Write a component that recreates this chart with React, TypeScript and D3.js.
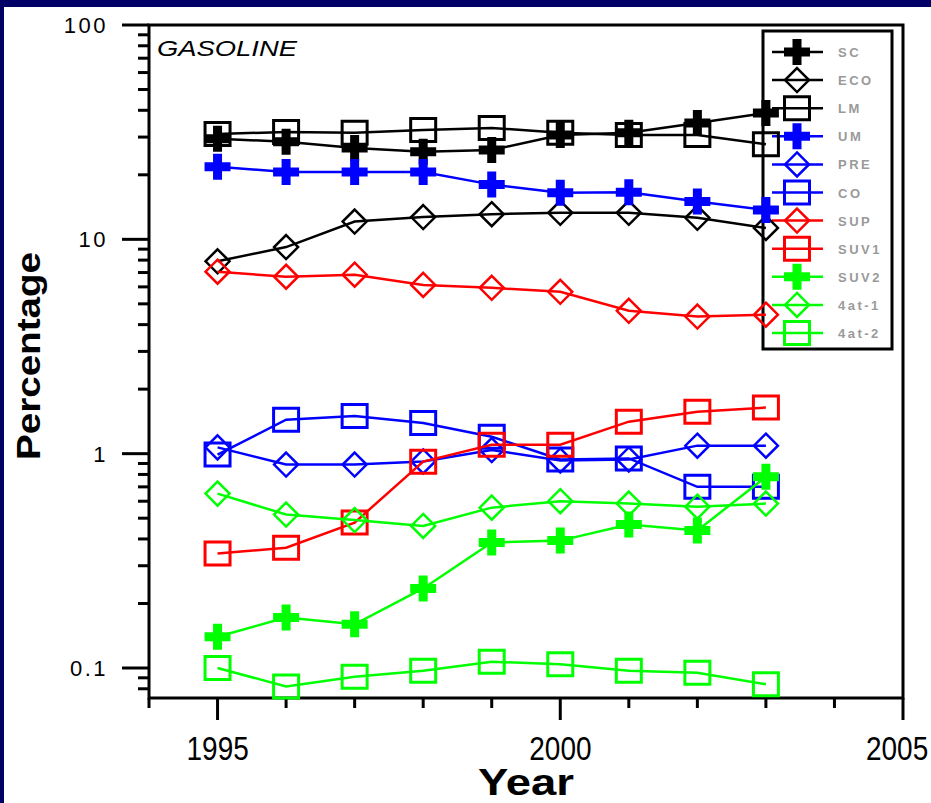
import * as d3 from 'd3';
import { useEffect, useRef } from 'react';

const years = [1995, 1996, 1997, 1998, 1999, 2000, 2001, 2002, 2003];

const sc = [29.5, 28.5, 26.7, 25.6, 26.1, 30.7, 31.4, 34.9, 38.9];
const eco = [7.9, 9.2, 12.1, 12.7, 13.1, 13.3, 13.3, 12.6, 11.3];
const lm = [31, 31.7, 31.4, 32.4, 33.1, 31.4, 30.7, 30.7, 27.8];
const um = [21.8, 20.6, 20.6, 20.6, 18.0, 16.5, 16.6, 15.0, 13.7];
const pre = [1.07, 0.89, 0.89, 0.92, 1.04, 0.93, 0.94, 1.09, 1.09];
const co = [0.99, 1.44, 1.5, 1.39, 1.2, 0.94, 0.95, 0.7, 0.7];
const sup = [7.06, 6.69, 6.84, 6.13, 5.94, 5.69, 4.64, 4.36, 4.45];
const suv1 = [0.342, 0.364, 0.477, 0.918, 1.1, 1.1, 1.41, 1.57, 1.64];
const suv2 = [0.14, 0.172, 0.16, 0.235, 0.385, 0.393, 0.467, 0.438, 0.78];
const at1 = [0.651, 0.52, 0.49, 0.46, 0.56, 0.6, 0.585, 0.566, 0.585];
const at2 = [0.1, 0.082, 0.091, 0.097, 0.107, 0.104, 0.097, 0.095, 0.084];

type Shape = 'plus' | 'diamond' | 'square';

const series: { name: string; values: number[]; color: string; shape: Shape }[] = [
  { name: 'SC', values: sc, color: '#000000', shape: 'plus' },
  { name: 'ECO', values: eco, color: '#000000', shape: 'diamond' },
  { name: 'LM', values: lm, color: '#000000', shape: 'square' },
  { name: 'UM', values: um, color: '#0000ff', shape: 'plus' },
  { name: 'PRE', values: pre, color: '#0000ff', shape: 'diamond' },
  { name: 'CO', values: co, color: '#0000ff', shape: 'square' },
  { name: 'SUP', values: sup, color: '#ff0000', shape: 'diamond' },
  { name: 'SUV1', values: suv1, color: '#ff0000', shape: 'square' },
  { name: 'SUV2', values: suv2, color: '#00ff00', shape: 'plus' },
  { name: '4at-1', values: at1, color: '#00ff00', shape: 'diamond' },
  { name: '4at-2', values: at2, color: '#00ff00', shape: 'square' },
];

const xTicksMajor = [1995, 2000, 2005];
const yTicksMajor = [0.1, 1, 10, 100];
const yTickLabels = ['0.1', '1', '10', '100'];

const W = 931;
const H = 803;
const left = 149;
const right = 903;
const top = 25;
const bottom = 698;

function markerPath(shape: Shape) {
  if (shape === 'plus') {
    const s = 13, t = 4.5;
    return `M${-s},${-t}H${-t}V${-s}H${t}V${-t}H${s}V${t}H${t}V${s}H${-t}V${t}H${-s}Z`;
  }
  if (shape === 'diamond') {
    const s = 12;
    return `M0,${-s}L${s},0L0,${s}L${-s},0Z`;
  }
  return 'M-12.5,-11.5H12.5V11.5H-12.5Z';
}

function drawMarker(g: any, shape: Shape, color: string, x: number, y: number) {
  g.append('path')
    .attr('d', markerPath(shape))
    .attr('transform', `translate(${x},${y})`)
    .attr('fill', shape === 'plus' ? color : 'none')
    .attr('stroke', color)
    .attr('stroke-width', shape === 'square' ? 3 : shape === 'diamond' ? 2.5 : 0);
}

export default function App() {
  const ref = useRef<SVGSVGElement>(null);

  useEffect(() => {
    if (!ref.current) return;
    const svg = d3.select(ref.current);
    svg.selectAll('*').remove();

    const x = d3.scaleLinear().domain([1994, 2005]).range([left, right]);
    const y = d3.scaleLog().domain([0.1, 100]).range([668, top]);

    // background + navy frame
    svg.append('rect').attr('width', W).attr('height', H).attr('fill', '#000066');
    svg.append('rect').attr('x', 4).attr('y', 7).attr('width', W - 4).attr('height', H - 7).attr('fill', '#ffffff');

    const font = "Arial, 'Liberation Sans', sans-serif";

    // legend (drawn under the data)
    const lg = svg.append('g');
    lg.append('rect')
      .attr('x', 763).attr('y', 31).attr('width', 129).attr('height', 318)
      .attr('fill', '#ffffff').attr('stroke', '#000').attr('stroke-width', 3);
    series.forEach((s, i) => {
      const ly = 52 + i * 28.1;
      lg.append('line')
        .attr('x1', 772).attr('x2', 823).attr('y1', ly).attr('y2', ly)
        .attr('stroke', s.color).attr('stroke-width', 2.5);
      drawMarker(lg, s.shape, s.color, 797, ly);
      lg.append('text')
        .attr('x', 838).attr('y', ly + 5)
        .attr('font-family', font).attr('font-size', 13).attr('font-weight', 'bold')
        .attr('letter-spacing', 2.5)
        .attr('fill', '#9a9a9a')
        .text(s.name);
    });

    // axes frame
    const ax = svg.append('g').attr('stroke', '#000').attr('stroke-width', 3);
    ax.append('rect')
      .attr('x', left).attr('y', top).attr('width', right - left).attr('height', bottom - top)
      .attr('fill', 'none');

    // x ticks
    d3.range(1994, 2006).forEach(yr => {
      const major = xTicksMajor.includes(yr);
      ax.append('line')
        .attr('x1', x(yr)).attr('x2', x(yr))
        .attr('y1', bottom).attr('y2', bottom + (major ? 22 : 10));
    });

    // y ticks
    yTicksMajor.forEach(v => {
      ax.append('line').attr('x1', left - 27).attr('x2', left).attr('y1', y(v)).attr('y2', y(v));
    });
    const minor: number[] = [];
    [0.01, 0.1, 1, 10].forEach(d => d3.range(2, 10).forEach(k => minor.push(k * d)));
    minor.filter(v => y(v) >= top && y(v) <= bottom).forEach(v => {
      ax.append('line').attr('x1', left - 11).attr('x2', left).attr('y1', y(v)).attr('y2', y(v));
    });

    // tick labels
    yTicksMajor.forEach((v, i) => {
      svg.append('text')
        .attr('x', 108).attr('y', y(v) + 8)
        .attr('text-anchor', 'end')
        .attr('font-family', font).attr('font-size', 22)
        .attr('letter-spacing', 2.5)
        .text(yTickLabels[i]);
    });
    // tall, narrow year labels
    xTicksMajor.forEach(v => {
      svg.append('text')
        .attr('transform', `translate(${Math.min(x(v) - 31, W - 65)},760) scale(1,1.2)`)
        .attr('font-family', font).attr('font-size', 28)
        .text(String(v));
    });

    // titles
    svg.append('text')
      .attr('x', 478).attr('y', 795)
      .attr('font-family', font).attr('font-size', 37).attr('font-weight', 'bold')
      .attr('textLength', 96).attr('lengthAdjust', 'spacingAndGlyphs')
      .text('Year');
    svg.append('text')
      .attr('transform', 'translate(40,460) rotate(-90)')
      .attr('font-family', font).attr('font-size', 34).attr('font-weight', 'bold')
      .attr('textLength', 208).attr('lengthAdjust', 'spacingAndGlyphs')
      .text('Percentage');
    svg.append('text')
      .attr('x', 157).attr('y', 56)
      .attr('font-family', font).attr('font-size', 22).attr('font-style', 'italic')
      .attr('textLength', 140).attr('lengthAdjust', 'spacingAndGlyphs')
      .text('GASOLINE');

    // data
    const line = d3.line<number>()
      .x((_, i) => x(years[i]))
      .y(d => y(d));

    series.forEach(s => {
      const g = svg.append('g');
      g.append('path')
        .datum(s.values)
        .attr('fill', 'none')
        .attr('stroke', s.color)
        .attr('stroke-width', 2.5)
        .attr('d', line);
      s.values.forEach((v, i) => drawMarker(g, s.shape, s.color, x(years[i]), y(v)));
    });
  }, []);

  return (
    <svg
      ref={ref}
      width={W}
      height={H}
      viewBox={`0 0 ${W} ${H}`}
      style={{ position: 'absolute', left: 0, top: 0 }}
    />
  );
}
